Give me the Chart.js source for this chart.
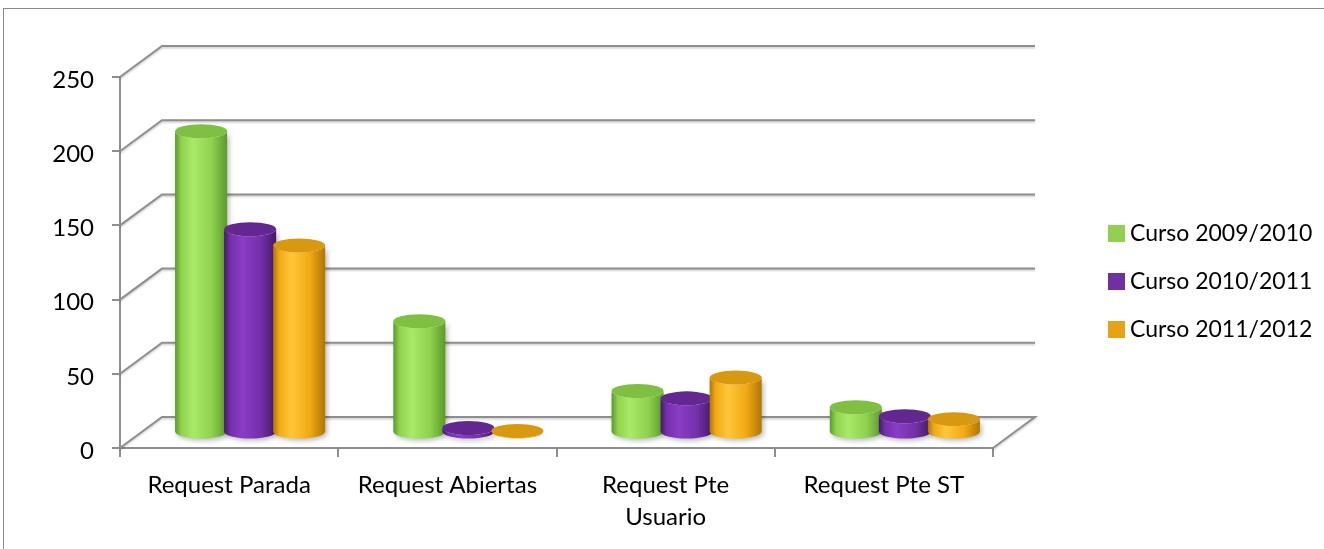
<!DOCTYPE html>
<html lang="es">
<head>
<meta charset="UTF-8">
<title>Request por curso</title>
<script src="https://cdn.jsdelivr.net/npm/chart.js"></script>
<style>
  html, body { margin: 0; padding: 0; background: #fff; }
  #wrap { position: relative; width: 1324px; height: 549px; overflow: hidden; }
  #frame { position: absolute; left: 3px; top: 8px; width: 1400px; height: 600px;
           border-left: 1px solid #8c8c8c; border-top: 1px solid #8c8c8c; }
  #chart { position: absolute; left: 0; top: 0; }
</style>
</head>
<body>
<div id="wrap">
  <div id="frame"></div>
  <canvas id="chart" width="1324" height="549"></canvas>
</div>
<script>
// datos
const categories = ["Request Parada", "Request Abiertas", ["Request Pte", "Usuario"], "Request Pte ST"];
const seriesNames = ["Curso 2009/2010", "Curso 2010/2011", "Curso 2011/2012"];
const curso0910 = [203, 75, 28, 17];
const curso1011 = [137, 3, 23, 11];
const curso1112 = [126, 1, 37, 9];
const yMin = 0, yMax = 250, yStep = 50;

// profundidad del efecto 3D (pared del fondo)
const DX = 42, DY = 31;

// sombreado de los cilindros
const shades = [
  { dark: "#5b9a2a", light: "#a9ea68", base: "#8fd24f", top: "#7fc043" },
  { dark: "#44196a", light: "#8a3cc6", base: "#7430a8", top: "#642792" },
  { dark: "#b07606", light: "#ffc63a", base: "#f1aa14", top: "#d89810" }
];

function cylinder(ctx, cx, top, bottom, rx, ry, s) {
  const g = ctx.createLinearGradient(cx - rx, 0, cx + rx, 0);
  g.addColorStop(0, s.dark);
  g.addColorStop(0.12, s.base);
  g.addColorStop(0.35, s.light);
  g.addColorStop(0.7, s.base);
  g.addColorStop(1, s.dark);

  ctx.save();
  ctx.shadowColor = "rgba(0,0,0,0.28)";
  ctx.shadowBlur = 5;
  ctx.shadowOffsetX = 2;
  ctx.shadowOffsetY = 2;
  ctx.beginPath();
  ctx.moveTo(cx - rx, top);
  ctx.lineTo(cx - rx, bottom);
  ctx.ellipse(cx, bottom, rx, ry, 0, Math.PI, 0, true);
  ctx.lineTo(cx + rx, top);
  ctx.ellipse(cx, top, rx, ry, 0, 0, Math.PI, false);
  ctx.closePath();
  ctx.fillStyle = g;
  ctx.fill();
  ctx.restore();

  ctx.beginPath();
  ctx.ellipse(cx, top, rx, ry, 0, 0, Math.PI * 2);
  ctx.fillStyle = s.top;
  ctx.fill();
}

const depthPlugin = {
  id: "depth",
  beforeDatasetsDraw(chart) {
    const { ctx, chartArea: a, scales: { y } } = chart;

    // rejilla en perspectiva
    ctx.save();
    ctx.strokeStyle = "#8e8e8e";
    ctx.lineWidth = 2;
    ctx.shadowColor = "rgba(0,0,0,0.2)";
    ctx.shadowBlur = 2;
    ctx.shadowOffsetY = 1.5;
    y.ticks.forEach(t => {
      const py = y.getPixelForValue(t.value);
      ctx.beginPath();
      ctx.moveTo(a.left, py);
      ctx.lineTo(a.left + DX, py - DY);
      ctx.lineTo(a.right + DX, py - DY);
      if (t.value === yMin) ctx.lineTo(a.right, py);
      ctx.stroke();
    });
    ctx.restore();

    // cilindros, a media profundidad
    chart.data.datasets.forEach((ds, i) => {
      const meta = chart.getDatasetMeta(i);
      meta.data.forEach(bar => {
        const rx = bar.width / 2 + 1.5;
        cylinder(ctx, bar.x + DX / 2, bar.y - DY / 2, bar.base - DY / 2, rx, 7, shades[i]);
      });
    });
    return false;
  }
};

const legendPlugin = {
  id: "sideLegend",
  afterDraw(chart) {
    const { ctx } = chart;
    ctx.save();
    ctx.font = "23px Lato";
    ctx.textBaseline = "middle";
    chart.data.datasets.forEach((ds, i) => {
      const y = 233 + i * 48;
      ctx.fillStyle = ds.backgroundColor;
      ctx.fillRect(1108, y - 8, 17, 17);
      ctx.fillStyle = "#000";
      ctx.fillText(ds.label, 1130, y + 1);
    });
    ctx.restore();
  }
};

Chart.defaults.font.family = "Lato";
Chart.defaults.font.size = 24;
Chart.defaults.color = "#000";

new Chart(document.getElementById("chart"), {
  type: "bar",
  data: {
    labels: categories,
    datasets: [
      { label: seriesNames[0], data: curso0910, backgroundColor: "#92d050" },
      { label: seriesNames[1], data: curso1011, backgroundColor: "#7030a0" },
      { label: seriesNames[2], data: curso1112, backgroundColor: "#e6a318" }
    ]
  },
  options: {
    responsive: false,
    animation: false,
    devicePixelRatio: 1,
    layout: { padding: { left: 0, right: 331, top: 77, bottom: 0 } },
    datasets: { bar: { categoryPercentage: 0.674, barPercentage: 1.0 } },
    plugins: { legend: { display: false }, tooltip: { enabled: false } },
    scales: {
      x: {
        grid: { drawOnChartArea: false, tickLength: 9, color: "#8e8e8e", lineWidth: 2 },
        border: { color: "#8e8e8e", width: 2 },
        ticks: { padding: 12, maxRotation: 0, autoSkip: false, font: { size: 24, lineHeight: 1.35 } },
        afterFit(scale) { scale.height = 101; }
      },
      y: {
        min: yMin,
        max: yMax,
        grid: { drawOnChartArea: false, tickLength: 8, color: "#8e8e8e", lineWidth: 2 },
        border: { color: "#8e8e8e", width: 2 },
        ticks: { stepSize: yStep, padding: 18, labelOffset: 3 },
        afterFit(scale) { scale.width = 120; }
      }
    }
  },
  plugins: [depthPlugin, legendPlugin]
});
</script>
</body>
</html>
